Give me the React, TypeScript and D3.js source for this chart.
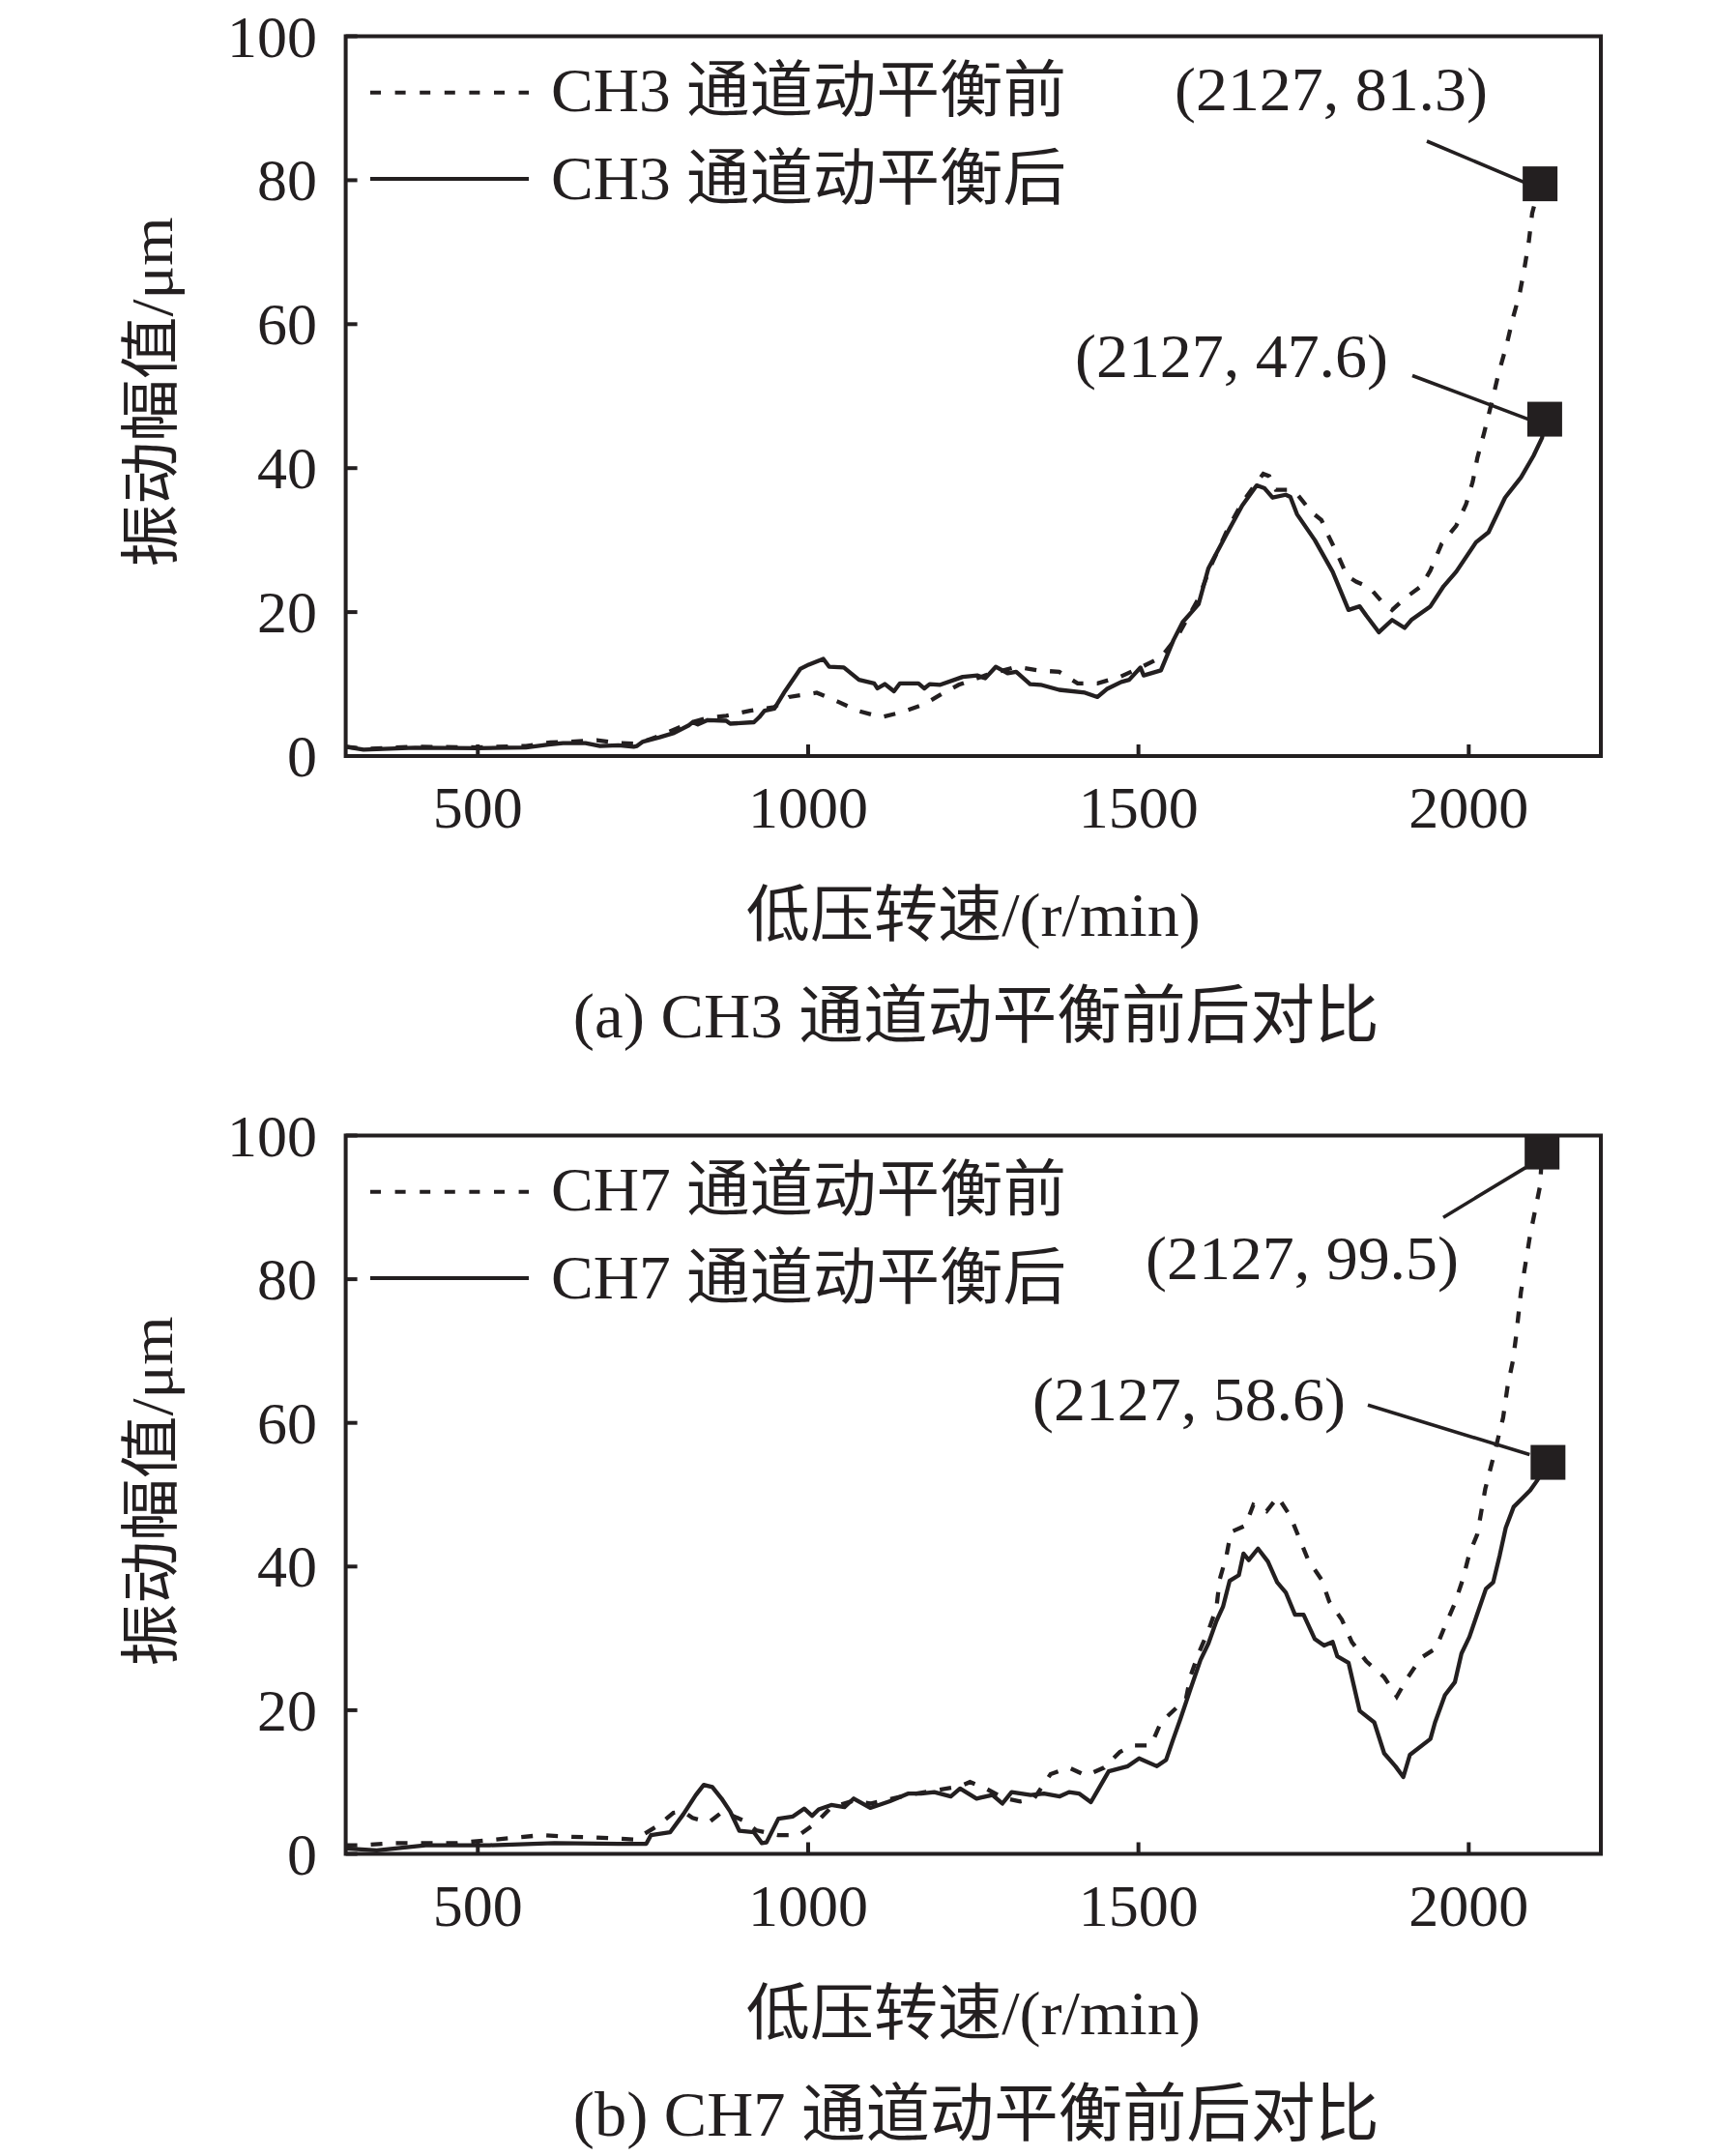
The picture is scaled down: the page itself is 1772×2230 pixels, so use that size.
import React from 'react';
import * as d3 from 'd3';

type Pt = [number, number];

// CH3 (top) – low pressure speed (r/min) vs vibration amplitude (μm)
const ch3Before: Pt[] = [
  [300, 1.3], [330, 1.0], [405, 1.3], [500, 1.2], [573, 1.4], [610, 1.9], [640, 2.0], [680, 2.2],
  [713, 1.8], [741, 1.7], [775, 2.8], [820, 4.6], [848, 5.3], [876, 5.6], [912, 6.3], [949, 6.8],
  [971, 8.2], [1013, 8.8], [1044, 7.6], [1075, 6.3], [1111, 5.4], [1142, 6.1], [1176, 7.2], [1200, 8.5],
  [1228, 9.9], [1268, 11.2], [1315, 12.4], [1348, 11.9], [1380, 11.7], [1408, 10.1], [1438, 10.1],
  [1472, 11.0], [1503, 12.3], [1534, 13.7], [1559, 16.6], [1591, 21.9], [1610, 26.5], [1635, 31.5],
  [1657, 35.2], [1679, 38.0], [1689, 39.2], [1698, 38.9], [1708, 37.0], [1728, 37.0], [1740, 36.4],
  [1762, 33.9], [1777, 32.8], [1786, 30.9], [1801, 28.1], [1816, 25.0], [1830, 24.2], [1850, 23.4],
  [1869, 21.4], [1884, 20.3], [1903, 21.9], [1928, 23.6], [1942, 25.8], [1959, 29.5], [1981, 32.0],
  [1996, 35.0], [2006, 38.1], [2013, 41.4], [2023, 44.8], [2035, 49.2], [2045, 53.1], [2057, 57.0],
  [2067, 60.9], [2077, 64.2], [2084, 67.6], [2091, 71.5], [2096, 75.4], [2108, 79.5],
];

const ch3After: Pt[] = [
  [300, 1.3], [327, 0.9], [405, 1.15], [500, 1.1], [573, 1.2], [607, 1.6], [629, 1.8], [663, 1.8],
  [685, 1.4], [713, 1.5], [736, 1.3], [741, 1.4], [750, 2.0], [775, 2.6], [797, 3.2], [820, 4.3],
  [825, 4.7], [833, 4.4], [848, 5.0], [876, 4.9], [882, 4.5], [918, 4.7], [926, 5.4], [934, 6.3],
  [949, 6.6], [965, 9.0], [988, 12.1], [1001, 12.7], [1023, 13.5], [1032, 12.4], [1054, 12.3],
  [1077, 10.6], [1100, 10.1], [1105, 9.4], [1116, 10.0], [1130, 9.0], [1139, 10.1], [1167, 10.1],
  [1176, 9.4], [1184, 10.0], [1200, 9.9], [1234, 11.0], [1256, 11.2], [1268, 10.8], [1284, 12.4],
  [1302, 11.5], [1315, 11.7], [1336, 10.0], [1352, 9.9], [1380, 9.2], [1419, 8.8], [1438, 8.2],
  [1452, 9.3], [1474, 10.3], [1486, 10.6], [1503, 12.3], [1508, 11.2], [1534, 11.9], [1553, 16.1],
  [1567, 18.6], [1591, 21.1], [1606, 26.1], [1635, 31.1], [1657, 34.8], [1679, 37.6], [1691, 37.2],
  [1703, 35.9], [1723, 36.3], [1730, 36.0], [1740, 33.6], [1767, 30.0], [1794, 25.6], [1818, 20.3],
  [1835, 20.8], [1845, 19.5], [1864, 17.2], [1884, 18.9], [1903, 17.8], [1913, 18.9], [1942, 20.8],
  [1962, 23.6], [1981, 25.6], [2011, 29.7], [2030, 31.1], [2055, 35.9], [2079, 38.7], [2098, 41.7],
  [2111, 44.2], [2115, 46.8],
];

// CH7 (bottom)
const ch7Before: Pt[] = [
  [300, 1.2], [323, 1.2], [371, 1.5], [469, 1.5], [596, 2.6], [635, 2.4], [674, 2.3], [738, 2.0],
  [772, 3.9], [796, 5.7], [811, 5.9], [825, 5.0], [850, 4.4], [871, 5.9], [903, 4.6], [921, 3.3],
  [955, 2.6], [986, 2.6], [1012, 4.3], [1035, 6.5], [1069, 7.4], [1094, 7.0], [1123, 7.6], [1152, 8.2],
  [1191, 8.8], [1230, 9.4], [1245, 10.0], [1269, 9.1], [1295, 7.8], [1321, 7.3], [1342, 7.7],
  [1367, 11.1], [1395, 12.0], [1421, 10.9], [1448, 12.0], [1472, 14.2], [1492, 15.1], [1519, 15.1],
  [1534, 18.3], [1572, 21.6], [1579, 24.8], [1591, 27.9], [1606, 31.1], [1618, 34.2], [1623, 38.2],
  [1633, 41.4], [1640, 44.8], [1662, 45.7], [1674, 48.6], [1694, 47.7], [1711, 49.7], [1730, 47.0],
  [1745, 43.6], [1757, 40.9], [1777, 38.2], [1789, 35.1], [1808, 32.6], [1823, 29.5], [1845, 26.8],
  [1872, 24.6], [1891, 21.9], [1908, 24.6], [1928, 27.3], [1950, 28.6], [1964, 31.7], [1979, 34.9],
  [1991, 38.2], [2001, 41.8], [2013, 44.5], [2025, 50.8], [2040, 56.2], [2052, 60.7], [2059, 65.2],
  [2067, 68.7], [2072, 72.3], [2079, 78.2], [2086, 82.2], [2093, 86.2], [2101, 89.8], [2108, 93.0],
  [2111, 97.7],
];

const ch7After: Pt[] = [
  [300, 0.75], [347, 0.5], [421, 1.2], [518, 1.2], [616, 1.5], [713, 1.4], [755, 1.4], [762, 2.6],
  [791, 3.0], [811, 5.5], [830, 8.2], [842, 9.6], [855, 9.3], [869, 7.7], [882, 5.9], [896, 3.2],
  [918, 3.0], [930, 1.5], [937, 1.6], [955, 4.9], [977, 5.2], [994, 6.3], [1006, 5.3], [1016, 6.2],
  [1035, 6.8], [1055, 6.5], [1069, 7.7], [1094, 6.4], [1123, 7.3], [1152, 8.4], [1171, 8.4],
  [1191, 8.6], [1216, 8.0], [1230, 9.1], [1255, 7.7], [1279, 8.2], [1294, 7.0], [1308, 8.6],
  [1337, 8.2], [1357, 8.4], [1381, 8.0], [1395, 8.6], [1410, 8.4], [1428, 7.2], [1440, 9.1],
  [1455, 11.5], [1484, 12.2], [1501, 13.3], [1528, 12.2], [1542, 13.1], [1552, 15.8], [1564, 18.9],
  [1579, 23.0], [1594, 27.0], [1606, 29.3], [1618, 32.4], [1628, 34.4], [1638, 38.0], [1652, 38.8],
  [1659, 41.8], [1667, 40.9], [1681, 42.5], [1696, 40.7], [1710, 37.8], [1723, 36.4], [1737, 33.3],
  [1750, 33.3], [1767, 29.9], [1781, 29.0], [1794, 29.5], [1801, 27.5], [1818, 26.6], [1835, 19.9],
  [1857, 18.3], [1872, 14.0], [1889, 12.2], [1901, 10.7], [1911, 13.8], [1942, 16.0], [1949, 18.3],
  [1964, 22.1], [1979, 23.9], [1989, 27.9], [2001, 30.2], [2026, 36.9], [2037, 37.8], [2047, 41.6],
  [2056, 45.4], [2068, 48.3], [2081, 49.5], [2093, 50.6], [2103, 51.9], [2120, 54.5],
];

const xTicks = [500, 1000, 1500, 2000];
const yTicks = [0, 20, 40, 60, 80, 100];
const xDomain: [number, number] = [300, 2200];
const yDomain: [number, number] = [0, 100];

const ch3Labels = ['CH3 通道动平衡前', 'CH3 通道动平衡后'];
const ch7Labels = ['CH7 通道动平衡前', 'CH7 通道动平衡后'];
const ch3Notes = ['(2127, 81.3)', '(2127, 47.6)'];
const ch7Notes = ['(2127, 99.5)', '(2127, 58.6)'];

const INK = '#231f20';
const FONT = "'Liberation Serif', 'Times New Roman', 'Noto Sans CJK SC', serif";
const LEFT = 357.6;
const RIGHT = 1656;

type Note = { text: string, tx: number, ty: number, lx: number, ly: number, ex: number, ey: number };

type PanelProps = {
  top: number,
  bottom: number,
  before: Pt[],
  after: Pt[],
  labels: string[],
  notes: Note[],
  caption: string,
}

const Panel: React.FC<PanelProps> = ({ top, bottom, before, after, labels, notes, caption }) => {
  const x = d3.scaleLinear().domain(xDomain).range([LEFT, RIGHT]);
  const y = d3.scaleLinear().domain(yDomain).range([bottom, top]);
  const line = d3.line<Pt>().x(d => x(d[0])).y(d => y(d[1]));

  const ends = [before[before.length - 1], after[after.length - 1]];
  const cx = (LEFT + RIGHT) / 2;

  return (
    <g fontFamily={FONT} fill={INK}>
      {/* curves */}
      <path d={line(before) || ''} fill="none" stroke={INK} strokeWidth={4.3} strokeDasharray="12 14" />
      <path d={line(after) || ''} fill="none" stroke={INK} strokeWidth={4.3} strokeLinejoin="round" />

      {/* frame and ticks */}
      <rect x={LEFT} y={top} width={RIGHT - LEFT} height={bottom - top} fill="none" stroke={INK} strokeWidth={4} />
      {yTicks.map(t => (
        <g key={'y' + t}>
          <line x1={LEFT} x2={LEFT + 12} y1={y(t)} y2={y(t)} stroke={INK} strokeWidth={4} />
          <text x={328} y={y(t) + 21} textAnchor="end" fontSize={62}>{t}</text>
        </g>
      ))}
      {xTicks.map(t => (
        <g key={'x' + t}>
          <line x1={x(t)} x2={x(t)} y1={bottom} y2={bottom - 12} stroke={INK} strokeWidth={4} />
          <text x={x(t)} y={bottom + 74} textAnchor="middle" fontSize={62}>{t}</text>
        </g>
      ))}

      {/* legend */}
      <line x1={383} x2={547} y1={top + 58.2} y2={top + 58.2} stroke={INK} strokeWidth={4} strokeDasharray="11 14.6" />
      <line x1={383} x2={547} y1={top + 147.5} y2={top + 147.5} stroke={INK} strokeWidth={4} />
      <text x={570} y={top + 77.5} fontSize={64} textLength={533} lengthAdjust="spacingAndGlyphs">{labels[0]}</text>
      <text x={570} y={top + 168.5} fontSize={64} textLength={533} lengthAdjust="spacingAndGlyphs">{labels[1]}</text>

      {/* end markers and annotations */}
      {ends.map((d, i) => {
        const n = notes[i];
        const mx = x(d[0]);
        const my = y(d[1]);
        return (
          <g key={'m' + i}>
            <line x1={n.lx} y1={top + n.ly} x2={mx + n.ex} y2={my + n.ey} stroke={INK} strokeWidth={3.6} />
            <rect x={mx - 18} y={my - 18} width={36} height={36} fill={INK} />
            <text x={n.tx} y={top + n.ty} fontSize={64} textLength={324} lengthAdjust="spacingAndGlyphs">{n.text}</text>
          </g>
        );
      })}

      {/* axis titles */}
      <text transform={`translate(178, ${top + 368}) rotate(-90)`} textAnchor="middle" fontSize={62}
        textLength={362} lengthAdjust="spacingAndGlyphs">振动幅值/μm</text>
      <text x={cx} y={bottom + 186} textAnchor="middle" fontSize={64} textLength={470}
        lengthAdjust="spacingAndGlyphs">低压转速/(r/min)</text>
      <text x={cx + 3} y={bottom + 291} textAnchor="middle" fontSize={66} textLength={834}
        lengthAdjust="spacingAndGlyphs">{caption}</text>
    </g>
  );
}

const App: React.FC = () => {
  const topNotes: Note[] = [
    { text: ch3Notes[0], tx: 1215, ty: 76.5, lx: 1476, ly: 108.5, ex: -15, ey: -1 },
    { text: ch3Notes[1], tx: 1112, ty: 352.5, lx: 1461, ly: 351, ex: -17, ey: 0 },
  ];
  const bottomNotes: Note[] = [
    { text: ch7Notes[0], tx: 1185, ty: 148.2, lx: 1493, ly: 84.8, ex: -17, ey: 16 },
    { text: ch7Notes[1], tx: 1068, ty: 294.5, lx: 1415, ly: 278.8, ex: -19, ey: -8 },
  ];

  return (
    <svg width={1772} height={2230} viewBox="0 0 1772 2230"
      style={{ position: 'absolute', left: 0, top: 0, background: '#fff' }}>
      <rect width={1772} height={2230} fill="#fff" />
      <Panel top={37.5} bottom={782} before={ch3Before} after={ch3After} labels={ch3Labels}
        notes={topNotes} caption="(a) CH3 通道动平衡前后对比" />
      <Panel top={1174.5} bottom={1917.5} before={ch7Before} after={ch7After} labels={ch7Labels}
        notes={bottomNotes} caption="(b) CH7 通道动平衡前后对比" />
    </svg>
  );
}

export default App;
